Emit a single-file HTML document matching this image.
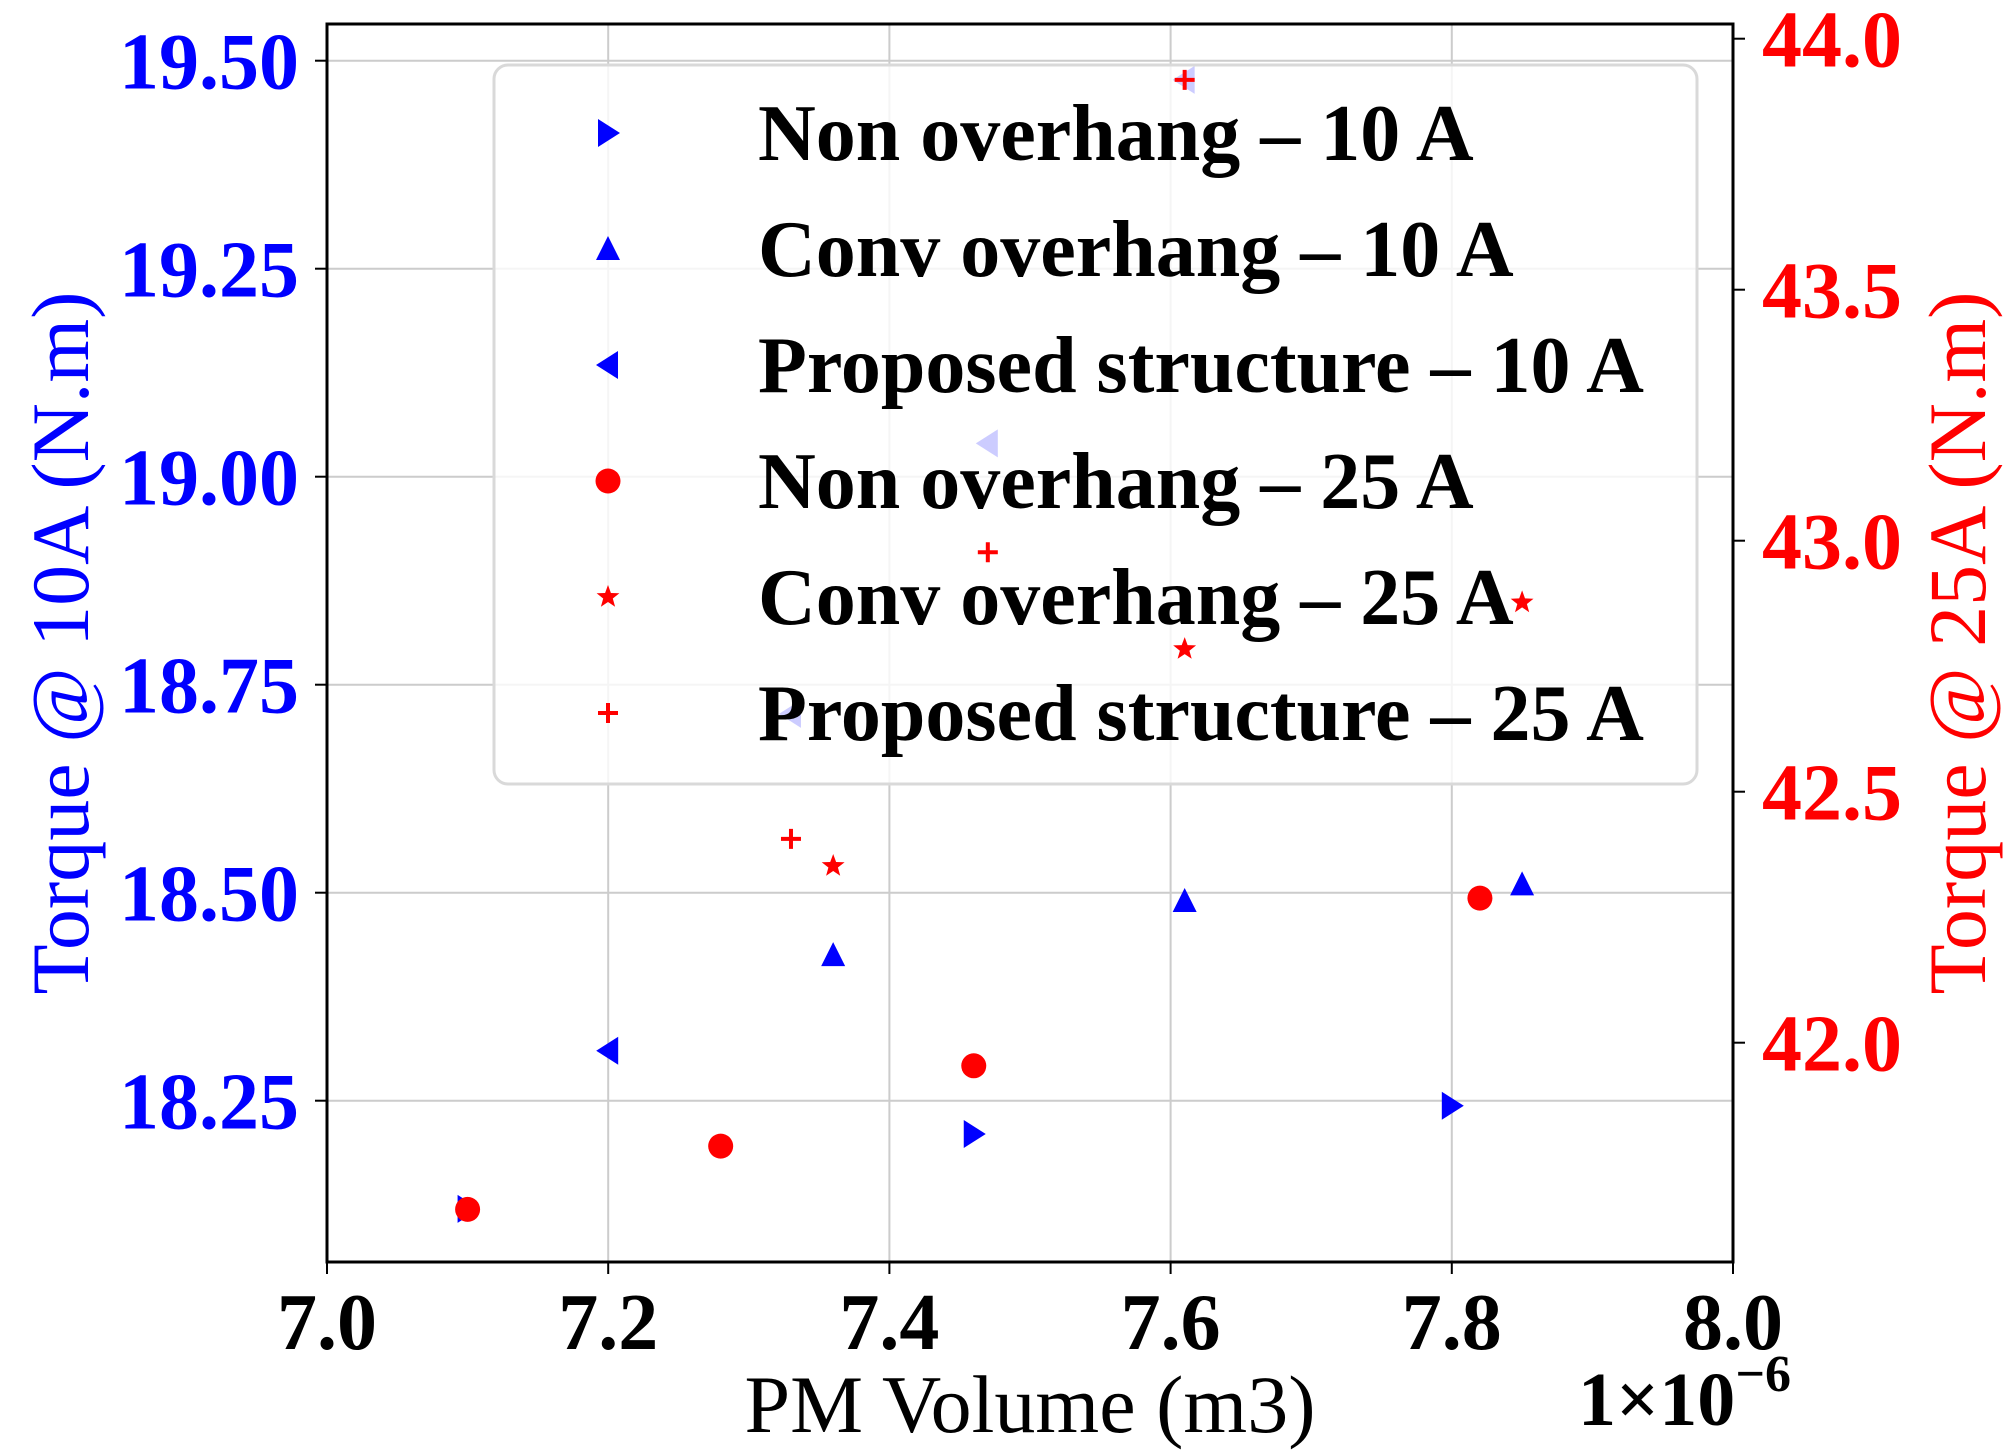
<!DOCTYPE html>
<html><head><meta charset="utf-8"><style>
html,body{margin:0;padding:0;background:#fff;}
svg{display:block;font-family:"Liberation Serif","DejaVu Serif",serif;}
</style></head><body>
<svg id="chart" width="2012" height="1456" viewBox="0 0 2012 1456" xmlns="http://www.w3.org/2000/svg">
<g id="grid"></g>
<g id="marks"></g>
<g id="legend"></g>
<g id="marks2"></g>
<g id="axes"></g>
</svg>
<script>
const xTicks = [7.0, 7.2, 7.4, 7.6, 7.8, 8.0];
const xTickLabels = ["7.0", "7.2", "7.4", "7.6", "7.8", "8.0"];
const yLeftTicks = [18.25, 18.50, 18.75, 19.00, 19.25, 19.50];
const yLeftTickLabels = ["18.25", "18.50", "18.75", "19.00", "19.25", "19.50"];
const yRightTicks = [42.0, 42.5, 43.0, 43.5, 44.0];
const yRightTickLabels = ["42.0", "42.5", "43.0", "43.5", "44.0"];

const nonX10 = [7.10, 7.46, 7.80];
const nonY10 = [18.12, 18.21, 18.244];
const convX10 = [7.36, 7.61, 7.85];
const convY10 = [18.425, 18.49, 18.51];
const propX10 = [7.20, 7.33, 7.47, 7.61];
const propY10 = [18.31, 18.715, 19.04, 19.477];
const nonX25 = [7.10, 7.28, 7.46, 7.82];
const nonY25 = [41.668, 41.794, 41.954, 42.288];
const convX25 = [7.36, 7.61, 7.85];
const convY25 = [42.352, 42.784, 42.877];
const propX25 = [7.33, 7.47, 7.61];
const propY25 = [42.406, 42.977, 43.918];

const legendLabels = ["Non overhang \u2013 10 A","Conv overhang \u2013 10 A","Proposed structure \u2013 10 A","Non overhang \u2013 25 A","Conv overhang \u2013 25 A","Proposed structure \u2013 25 A"];

const L=327,R=1733,T=24,B=1262;
const x=v=>L+(v-7.0)/1.0*(R-L);
const yL=v=>60.7+(19.5-v)/0.25*208;
const yR=v=>38.7+(44.0-v)/0.5*251;
const NS="http://www.w3.org/2000/svg";
function mk(tag,attrs,parent){const e=document.createElementNS(NS,tag);for(const k in attrs)e.setAttribute(k,attrs[k]);parent.appendChild(e);return e;}
const grid=document.getElementById('grid'),marks=document.getElementById('marks'),marks2=document.getElementById('marks2'),axes=document.getElementById('axes'),legend=document.getElementById('legend');

xTicks.forEach((t,i)=>{
  if(i>0&&i<xTicks.length-1){const g=mk('line',{x1:x(t),x2:x(t),y1:T,y2:B,stroke:'#cccccc','stroke-width':2},grid);
  
  }
  const tk=mk('line',{x1:x(t),x2:x(t),y1:B,y2:B+12,stroke:'#000','stroke-width':2},axes);
  
  
  const tl=mk('text',{x:x(t),y:1349,'text-anchor':'middle','font-size':80,'font-weight':'bold',fill:'#000'},axes);
  tl.textContent=xTickLabels[i];
  
  
});
yLeftTicks.forEach((t,i)=>{
  const g=mk('line',{x1:L,x2:R,y1:yL(t),y2:yL(t),stroke:'#cccccc','stroke-width':2},grid);
  
  
  const tk=mk('line',{x1:L-12,x2:L,y1:yL(t),y2:yL(t),stroke:'#000','stroke-width':2},axes);
  
  
  const tl=mk('text',{x:299,y:yL(t)+28,'text-anchor':'end','font-size':80,'font-weight':'bold',fill:'#0000ff'},axes);
  tl.textContent=yLeftTickLabels[i];
  
  
});
yRightTicks.forEach((t,i)=>{
  const tk=mk('line',{x1:R,x2:R+12,y1:yR(t),y2:yR(t),stroke:'#000','stroke-width':2},axes);
  
  
  const tl=mk('text',{x:1762,y:yR(t)+28,'text-anchor':'start','font-size':80,'font-weight':'bold',fill:'#ff0000'},axes);
  tl.textContent=yRightTickLabels[i];
  
  
});
const frame=mk('rect',{x:L,y:T,width:R-L,height:B-T,fill:'none',stroke:'#000','stroke-width':3},axes);



function marker(type,cx,cy,color,parent){
  let e;
  if(type==='right') e=mk('polygon',{points:`${cx-10},${cy-14} ${cx+12},${cy} ${cx-10},${cy+14}`,fill:color},parent);
  else if(type==='up') e=mk('polygon',{points:`${cx-12},${cy+11} ${cx},${cy-13} ${cx+12},${cy+11}`,fill:color},parent);
  else if(type==='left') e=mk('polygon',{points:`${cx+10},${cy-14} ${cx-12},${cy} ${cx+10},${cy+14}`,fill:color},parent);
  else if(type==='circle') e=mk('circle',{cx:cx,cy:cy,r:12.5,fill:color},parent);
  else if(type==='star'){let p=[];for(let k=0;k<10;k++){const r=k%2?5:12,a=-Math.PI/2+k*Math.PI/5;p.push((cx+r*Math.cos(a)).toFixed(1)+','+(cy+r*Math.sin(a)).toFixed(1));}e=mk('polygon',{points:p.join(' '),fill:color},parent);}
  else e=mk('path',{d:`M${cx-10},${cy}H${cx+10}M${cx},${cy-10}V${cy+10}`,stroke:color,'stroke-width':4},parent);
  return e;
}
const series=[
 [nonX10,nonY10,'right','#0000ff',yL,'non-overhang-10a',marks],
 [convX10,convY10,'up','#0000ff',yL,'conv-overhang-10a',marks],
 [propX10,propY10,'left','#0000ff',yL,'proposed-structure-10a',marks],
 [nonX25,nonY25,'circle','#ff0000',yR,'non-overhang-25a',marks2],
 [convX25,convY25,'star','#ff0000',yR,'conv-overhang-25a',marks2],
 [propX25,propY25,'plus','#ff0000',yR,'proposed-structure-25a',marks2]];
series.forEach(s=>{
  s[0].forEach((xv,i)=>{
    const m=marker(s[2],x(xv),s[4](s[1][i]),s[3],s[6]);
    
    
  });
});

const box=mk('rect',{x:494,y:65,width:1203,height:719,rx:14,fill:'#ffffff','fill-opacity':0.8,stroke:'#d9d9d9','stroke-width':3},legend);


legendLabels.forEach((lab,i)=>{
  const cy=133+i*116;
  const g=mk('g',{},legend);
  
  
  marker(series[i][2],608,cy,series[i][3],g);
  const t=mk('text',{x:758,y:cy+27,'font-size':80,'font-weight':'bold',fill:'#000'},g);
  t.textContent=lab;
});
</script>
<svg style="position:absolute;left:0;top:0" width="2012" height="1456">
<text x="0" y="0" transform="translate(88,643) rotate(-90)" text-anchor="middle" font-family="Liberation Serif, serif" font-size="82" fill="#0000ff">Torque @ 10A (N.m)</text>
<text x="0" y="0" transform="translate(1985,643) rotate(-90)" text-anchor="middle" font-family="Liberation Serif, serif" font-size="82" fill="#ff0000">Torque @ 25A (N.m)</text>
<text x="1030" y="1432" text-anchor="middle" font-family="Liberation Serif, serif" font-size="82" fill="#000">PM Volume (m3)</text>
<text x="1578" y="1425" font-family="Liberation Serif, serif" font-size="76" font-weight="bold" fill="#000">1×10<tspan dy="-34" font-size="52">−6</tspan></text>
</svg>
</body></html>
